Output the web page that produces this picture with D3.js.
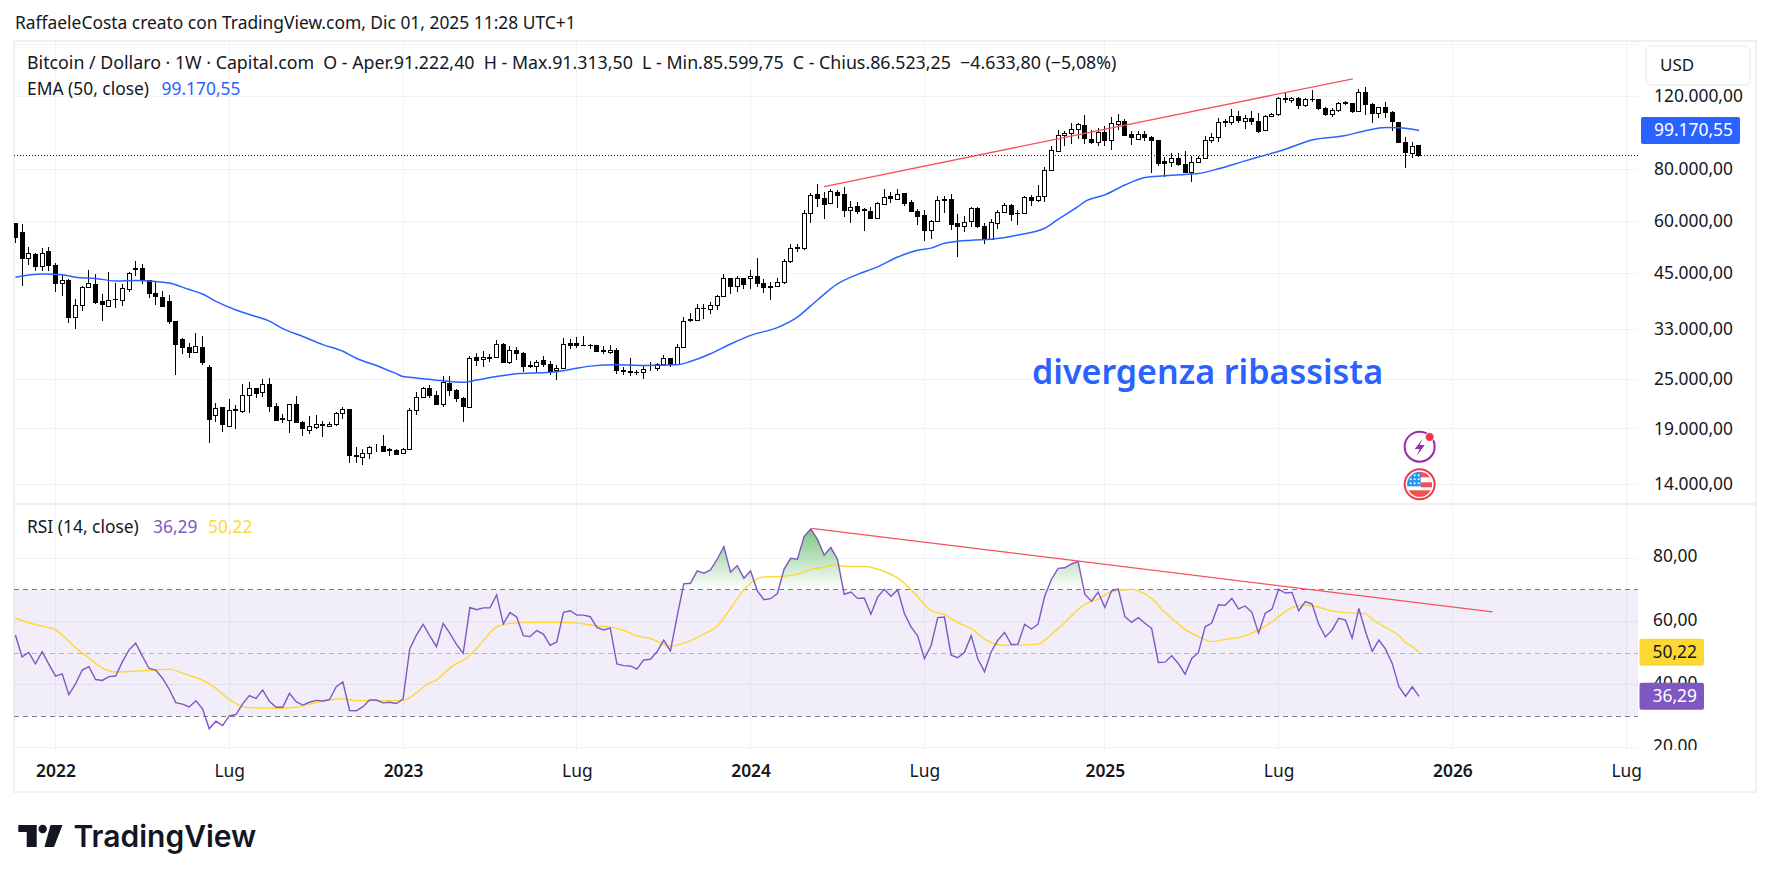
<!DOCTYPE html>
<html lang="it">
<head>
	<meta charset="UTF-8">
	<title>Bitcoin / Dollaro 1W</title>
	<style>
		html, body { margin: 0; padding: 0; background: #fff; }
		svg { display: block; }
		text { font-family: "Noto Sans", sans-serif; fill: #131722; white-space: pre; }
		.axis path, .axis line { display: none; }
		.axis text { font-size: 17.4px; font-family: "Noto Sans", sans-serif; fill: #131722; }
		.grid { stroke: #f1f2f4; stroke-width: 1; shape-rendering: crispEdges; }
	</style>
</head>
<body>
	<script src="https://d3js.org/d3.v7.min.js"></script>
	<script>
		// weekly candles, prices in thousands of USD, first bar is week -6 (week 0 = first bar of 2022)
		var firstWeek = -6;
		var opens = [
			59.4,56.5,48.8,50.0,46.7,50.8,47.0,42.4,43.1,35.3,37.7,41.6,42.2,38.4,37.4,38.8,38.7,41.2,46.2,46.2,
			43.1,40.3,39.4,38.4,34.4,31.1,29.8,29.0,29.8,26.7,20.5,21.4,19.3,21.0,20.9,22.8,23.8,23.3,24.3,21.5,
			20.1,19.9,21.7,19.7,18.8,19.2,19.5,19.3,19.5,20.7,21.2,16.3,16.2,16.6,17.1,17.2,16.9,16.9,16.6,17.0,
			21.0,22.6,23.8,22.9,21.7,24.5,23.5,22.5,21.4,28.2,27.9,28.1,28.2,30.4,27.5,29.3,28.9,27.0,26.9,27.7,
			27.2,26.2,26.5,30.5,30.5,30.2,30.1,30.2,29.2,29.0,29.3,26.2,26.1,26.0,25.9,26.5,26.5,27.1,28.0,27.2,
			29.9,34.7,34.7,37.0,36.8,37.7,39.6,43.8,41.9,43.6,43.6,44.3,42.6,41.9,41.9,42.8,48.0,51.6,51.6,62.7,
			69.4,68.1,66.2,70.4,69.4,63.8,65.0,64.0,63.4,61.0,65.9,68.8,67.8,69.8,66.4,63.4,61.8,57.1,59.9,67.5,
			67.8,59.1,58.4,59.8,64.2,58.4,54.3,59.3,63.0,65.6,62.7,62.7,68.5,67.3,68.9,79.6,88.4,96.4,97.6,99.8,
			102.0,94.5,92.9,98.2,93.9,102.6,104.3,96.9,94.5,96.9,95.6,93.9,83.3,83.0,84.8,82.2,78.6,83.0,84.8,93.9,
			95.3,103.9,103.8,107.1,104.3,106.1,104.3,99.2,107.1,108.5,118.5,117.2,118.5,113.8,118.0,117.4,112.2,108.5,110.9,115.7,
			114.9,110.1,122.4,114.7,108.7,112.8,109.7,103.8,92.9,87.4,91.222
		];
		var highs = [
			59.4,59.1,52.0,50.3,51.7,52.0,47.5,44.6,43.6,38.9,42.0,45.7,44.8,40.1,45.3,42.6,42.4,45.2,48.1,47.4,
			43.2,43.0,40.8,39.9,34.5,31.4,30.5,32.3,31.8,27.0,21.9,21.5,22.4,21.7,24.4,24.6,23.8,25.0,25.2,21.9,
			20.6,21.8,22.8,19.9,20.4,20.5,19.9,19.7,20.9,21.5,21.2,17.2,17.0,17.3,17.5,18.4,17.1,17.0,17.1,21.3,
			23.3,24.0,24.2,23.4,25.4,25.4,23.7,22.7,28.4,28.9,29.2,28.8,31.1,30.5,30.0,29.9,29.1,27.7,27.9,28.5,
			27.6,27.0,31.5,31.2,31.6,31.8,30.4,30.2,30.0,30.2,29.7,26.7,28.2,26.3,26.9,27.5,27.4,28.6,28.0,30.4,
			35.3,36.0,37.9,38.0,38.4,39.9,44.8,43.8,44.4,43.8,45.8,48.9,43.6,42.8,43.9,48.7,52.9,52.9,63.7,70.3,
			73.6,70.5,71.6,71.2,72.5,67.1,66.9,64.5,64.9,66.9,71.6,70.7,71.6,70.3,67.3,64.1,63.7,60.4,68.8,69.0,
			69.8,62.5,61.6,65.0,65.0,59.5,60.7,63.9,66.4,66.1,63.9,68.8,69.3,73.3,80.9,91.0,99.4,98.7,103.6,103.6,
			108.1,99.4,100.4,101.7,106.7,108.7,105.5,99.0,98.7,99.0,95.9,94.1,85.5,87.4,87.4,88.7,86.1,86.1,95.9,98.0,
			106.1,105.5,111.5,110.5,108.1,110.5,109.1,108.1,109.5,119.5,122.4,119.6,119.2,118.9,124.0,117.8,112.6,112.2,116.3,117.0,
			115.7,124.5,125.9,115.3,113.2,115.9,110.5,104.1,95.5,92.9,91.313
		];
		var lows = [
			53.2,42.0,47.0,45.6,45.6,45.6,40.6,39.7,34.1,33.0,36.4,41.6,38.0,34.5,37.4,37.2,37.5,40.6,44.4,42.3,
			39.3,37.8,37.4,33.9,25.6,28.7,28.1,29.0,27.1,17.6,19.7,18.7,19.2,19.0,20.8,20.8,22.5,22.7,20.9,19.9,
			19.6,18.6,19.6,18.3,18.5,19.0,18.2,19.2,19.3,20.1,15.7,15.7,15.6,16.1,16.7,16.7,16.4,16.5,16.5,17.0,
			20.5,22.5,22.6,21.7,21.5,22.8,22.1,19.7,21.4,26.9,26.7,27.5,28.1,27.3,27.2,27.8,26.0,26.6,25.9,26.8,
			25.6,24.9,26.5,29.6,29.8,30.0,29.6,29.1,28.7,28.8,25.7,25.6,25.5,25.6,25.0,26.2,26.2,27.0,26.7,27.2,
			29.9,34.3,34.7,35.0,35.8,36.7,39.6,40.2,40.6,41.2,41.3,41.8,40.4,38.7,41.8,42.3,47.7,50.6,51.2,59.5,
			64.9,60.9,66.2,64.6,61.3,59.5,62.5,56.7,60.6,60.9,65.7,66.5,67.8,65.1,63.1,58.6,53.9,54.5,59.9,62.7,
			57.2,49.3,56.4,58.0,57.9,52.8,54.1,57.4,62.7,60.0,58.9,62.7,65.4,66.8,66.9,79.6,88.2,91.0,92.1,94.5,
			92.1,92.2,91.0,91.0,89.0,99.4,95.9,91.7,94.5,93.4,78.5,81.5,76.8,81.2,81.5,78.3,74.7,83.0,84.8,92.7,
			93.0,101.3,102.0,103.2,100.0,102.1,97.6,99.2,106.7,107.5,115.7,115.3,111.9,112.6,116.3,111.1,107.5,107.1,110.1,114.4,
			109.1,110.1,108.1,103.6,106.1,106.1,99.0,92.7,80.7,85.3,85.6
		];
		var closes = [
			54.7,48.8,50.3,46.7,50.3,47.0,42.4,43.1,35.2,37.6,41.6,42.4,38.2,37.8,38.7,38.9,41.4,44.8,45.9,43.2,
			40.2,39.5,37.5,34.5,30.3,29.8,29.0,30.0,27.4,20.0,21.3,19.5,21.0,21.1,22.8,23.8,23.1,24.3,21.5,19.9,
			20.0,21.7,19.7,19.0,19.3,19.5,19.4,19.5,20.7,21.2,16.4,16.4,16.6,17.1,17.1,16.8,17.0,16.5,17.0,21.0,
			22.6,23.8,22.9,21.8,24.6,23.5,22.5,21.5,28.0,27.8,28.2,28.2,30.4,27.4,29.3,28.9,26.9,26.9,27.5,27.2,
			26.1,26.5,30.4,30.2,30.1,30.1,30.2,29.2,29.3,29.3,26.2,26.1,26.0,25.9,26.4,26.5,27.1,28.0,27.2,29.9,
			34.5,34.8,37.0,37.1,37.7,39.6,43.8,41.9,43.6,42.3,44.3,42.5,41.6,41.6,42.8,48.1,51.7,51.8,62.7,69.3,
			68.0,65.9,70.8,69.3,63.7,64.6,63.3,63.8,60.9,66.1,68.5,68.0,69.7,66.3,63.3,61.7,57.0,60.0,67.4,67.3,
			58.9,58.4,59.5,64.2,58.3,54.3,59.6,63.0,65.6,62.3,62.5,68.5,67.3,68.8,79.6,88.8,96.4,97.6,99.8,102.6,
			94.8,92.7,98.2,93.6,103.2,104.3,96.4,95.2,96.9,95.3,93.9,82.6,82.8,85.0,82.1,78.4,83.0,84.8,93.9,95.5,
			103.8,104.3,107.1,104.7,106.1,104.3,98.5,107.1,108.5,118.5,117.6,118.5,114.0,117.8,117.6,111.9,108.3,110.9,115.3,115.3,
			109.9,122.2,114.7,108.7,112.8,109.7,104.1,92.9,87.9,90.9,86.523
		];

		// EMA 50 at these weeks
		var emaWeeks = [-6,-2,1,3,6,9,12,15,17,20,22,24,27,30,32,34,37,40,43,45,48,51,52,54,58,61,63,66,69,74,77,80,84,88,93,95,98,101,104,108,111,114,117,120,123,126,129,131,133,137,140,144,148,150,153,154,157,160,163,167,171,174,178,181,184,188,193,196,199,201,204];
		var emaValues = [44.0,44.8,44.6,44.0,43.7,43.1,43.2,43.0,42.6,41.1,40.1,38.5,36.7,35.4,34.5,33.1,31.7,30.3,29.2,28.1,27.0,25.8,25.4,25.2,24.8,24.6,24.9,25.4,25.8,26.0,26.4,26.9,27.1,27.0,27.1,27.6,28.8,30.4,31.9,33.3,35.3,38.8,42.4,44.7,46.6,49.2,51.1,51.7,53.1,54.0,54.3,55.6,57.7,60.6,65.1,66.9,69.4,73.3,76.4,77.4,78.1,80.2,83.8,86.5,89.4,94.1,96.4,99.0,100.8,100.6,99.17];

		// RSI 14, one value per candle
		var rsiValues = [
			55.7,48.8,50.2,46.6,50.4,46.5,42.7,43.4,36.8,40.2,44.6,45.7,41.6,41.3,42.5,42.7,47.2,51.0,53.1,49.0,
			45.1,44.6,42.0,38.6,34.3,33.8,32.9,34.9,32.3,26.0,28.4,27.0,30.1,30.5,33.9,36.5,35.6,38.3,34.7,32.8,
			32.8,37.2,34.6,33.5,34.4,35.0,34.8,35.2,39.3,40.8,31.8,31.7,33.0,35.1,35.1,34.2,34.4,34.0,35.4,51.3,
			55.7,59.1,55.4,52.0,59.4,56.2,52.7,49.9,64.4,63.7,64.3,64.3,68.4,59.2,62.8,61.4,55.5,55.2,57.1,56.0,
			52.4,53.5,62.9,63.4,62.0,62.0,61.5,58.1,57.3,57.9,46.5,46.0,45.9,44.9,47.8,48.0,50.4,54.1,50.7,61.5,
			71.9,72.1,76.0,75.3,76.3,79.7,83.7,75.6,77.7,73.7,76.0,69.7,66.9,67.2,68.8,76.5,80.0,79.7,86.9,89.3,
			86.0,81.0,83.4,79.7,68.6,69.3,67.3,67.4,62.3,67.7,70.2,68.0,70.0,62.6,58.3,55.4,48.2,52.3,61.2,61.4,
			49.3,48.5,50.2,55.5,48.1,44.1,50.4,54.1,56.5,52.7,52.8,59.1,57.6,59.1,68.0,73.3,76.8,77.0,78.2,79.0,
			68.6,66.4,69.3,64.4,69.7,70.3,61.5,59.7,61.2,59.4,57.8,47.0,47.1,49.1,46.7,43.3,48.3,50.1,58.3,59.5,
			65.3,65.1,67.3,64.0,64.9,62.9,56.3,62.6,63.9,70.2,69.0,69.2,63.4,66.3,65.5,59.1,55.1,57.3,61.0,60.4,
			54.7,64.1,56.8,50.5,54.1,51.2,46.7,39.3,36.3,39.3,36.29
		];

		// RSI moving average at these weeks
		var rsiMaWeeks = [-6,-3,-1,0,1,3,5,7,9,12,15,17,19,21,22,24,26,27,29,33,36,39,43,45,48,52,54,56,57,58,60,61,63,66,68,72,76,78,81,83,85,87,89,92,94,97,99,101,103,104,106,108,111,113,115,117,118,121,124,126,129,130,131,133,135,137,139,141,143,147,148,150,151,153,154,156,158,161,162,164,166,167,169,171,173,175,178,180,182,184,185,187,189,191,193,196,197,199,201,202,203,204];
		var rsiMaValues = [61.0,59.0,58.1,57.3,55.7,51.7,48.4,45.3,44.0,44.2,44.6,44.9,43.6,42.2,41.4,38.8,35.3,34.0,32.7,32.5,32.8,34.3,35.5,34.9,34.9,35.0,37.4,40.6,41.4,43.3,46.7,47.6,51.4,58.3,59.4,59.7,59.7,59.5,58.6,58.2,57.2,55.4,54.6,52.2,53.1,56.0,58.5,64.1,70.0,72.1,74.1,74.2,75.0,76.5,77.2,77.9,77.4,77.4,75.8,73.8,67.8,65.4,63.4,62.2,59.6,57.8,54.4,52.6,52.4,52.8,54.1,57.8,59.6,63.8,65.4,67.1,69.4,70.2,69.7,67.3,62.8,61.0,57.5,55.2,53.6,54.3,55.4,57.3,59.9,63.1,64.4,65.2,64.5,63.3,62.8,62.4,60.7,58.1,55.5,53.3,52.0,50.22];

		var priceGrid = [160,120,80,60,45,33,25,19,14];
		var priceTicks = [120,80,60,45,33,25,19,14];
		var rsiGrid = [80,60,40,20];
		var rsiBands = [70,50,30];
		var rsiTicks = [80,60,40,20];
		var timeWeeks = [0,26,52,78,104,130,157,183,209,235];
		var timeLabels = ['2022','Lug','2023','Lug','2024','Lug','2025','Lug','2026','Lug'];

		var priceTrendWeeks = [115,194.1];
		var priceTrendValues = [72.7,132.0];
		var rsiTrendWeeks = [113.1,215];
		var rsiTrendValues = [89.5,63.0];

		var lastEma = 99.17055;
		var lastClose = 86.523;
		var lastRsi = 36.29;
		var lastRsiMa = 50.22;

		var width = 1772;
		var height = 882;
		var left = 14;
		var right = 1638;
		var frameRight = 1756;
		var blue = '#2962ff', purple = '#7e57c2', yellow = '#fdd835', red = '#f7525f';

		var loc = d3.formatLocale({decimal: ',', thousands: '.', grouping: [3], currency: ['', '']});
		var fmt = loc.format(',.2f');

		var x = d3.scaleLinear().domain([0,209]).range([55.5,1452.4]);
		var y = d3.scaleLog().domain([120,14]).range([96,484.1]);
		var yr = d3.scaleLinear().domain([80,20]).range([558.3,747.7]);

		var weeks = d3.range(opens.length).map(function(i){ return firstWeek + i; });

		var svg = d3.select('body').append('svg').attr('width',width).attr('height',height);
		var defs = svg.append('defs');
		defs.append('clipPath').attr('id','clipPrice').append('rect')
			.attr('x',left).attr('y',42).attr('width',right-left).attr('height',504-42);
		defs.append('clipPath').attr('id','clipRsi').append('rect')
			.attr('x',left).attr('y',505).attr('width',right-left).attr('height',750-505);
		defs.append('clipPath').attr('id','clipOver').append('rect')
			.attr('x',left).attr('y',505).attr('width',right-left).attr('height',yr(70)-505);
		defs.append('clipPath').attr('id','clipUnder').append('rect')
			.attr('x',left).attr('y',yr(30)).attr('width',right-left).attr('height',750-yr(30));
		defs.append('clipPath').attr('id','clipRsiAxis').append('rect')
			.attr('x',right).attr('y',505).attr('width',frameRight-right).attr('height',750-505);
		defs.append('clipPath').attr('id','clipTime').append('rect')
			.attr('x',left).attr('y',750).attr('width',right-left+6).attr('height',40);
		var over = defs.append('linearGradient').attr('id','gradOver').attr('gradientUnits','userSpaceOnUse')
			.attr('x1',0).attr('x2',0).attr('y1',yr(90)).attr('y2',yr(70));
		over.append('stop').attr('offset',0).attr('stop-color','#4caf50').attr('stop-opacity',0.75);
		over.append('stop').attr('offset',1).attr('stop-color','#4caf50').attr('stop-opacity',0);
		var under = defs.append('linearGradient').attr('id','gradUnder').attr('gradientUnits','userSpaceOnUse')
			.attr('x1',0).attr('x2',0).attr('y1',yr(30)).attr('y2',yr(10));
		under.append('stop').attr('offset',0).attr('stop-color','#ff5252').attr('stop-opacity',0);
		under.append('stop').attr('offset',1).attr('stop-color','#ff5252').attr('stop-opacity',0.75);

		// grid
		var grid = svg.append('g');
		grid.selectAll('.pg').data(priceGrid).enter().append('line').attr('class','grid')
			.attr('x1',left).attr('x2',right).attr('y1',function(d){ return y(d); }).attr('y2',function(d){ return y(d); });
		grid.selectAll('.rg').data(rsiGrid).enter().append('line').attr('class','grid')
			.attr('x1',left).attr('x2',right).attr('y1',function(d){ return yr(d); }).attr('y2',function(d){ return yr(d); });
		grid.selectAll('.vg').data(timeWeeks).enter().append('line').attr('class','grid')
			.attr('x1',function(d){ return x(d); }).attr('x2',function(d){ return x(d); })
			.attr('y1',42).attr('y2',750);

		// frame and pane separator
		svg.append('rect').attr('x',left).attr('y',41).attr('width',frameRight-left).attr('height',751)
			.attr('fill','none').attr('stroke','#f0f0f1').attr('stroke-width',2);
		svg.append('line').attr('x1',left).attr('x2',frameRight).attr('y1',504).attr('y2',504)
			.attr('stroke','#eeeeef').attr('stroke-width',2);

		// price pane
		var price = svg.append('g').attr('clip-path','url(#clipPrice)');
		price.append('line').attr('x1',left).attr('x2',right+2)
			.attr('y1',y(lastClose)).attr('y2',y(lastClose))
			.attr('stroke','#131722').attr('stroke-width',1).attr('stroke-dasharray','1,2').attr('shape-rendering','crispEdges');

		var candle = price.selectAll('.candle').data(weeks).enter().append('g').attr('class','candle');
		candle.append('line')
			.attr('x1',function(d){ return x(d); }).attr('x2',function(d){ return x(d); })
			.attr('y1',function(d,i){ return y(highs[i]); })
			.attr('y2',function(d,i){ return y(lows[i]); })
			.attr('stroke','#000').attr('stroke-width',1).attr('shape-rendering','crispEdges');
		candle.append('rect')
			.attr('x',function(d){ return x(d)-2; })
			.attr('width',4)
			.attr('y',function(d,i){ return y(Math.max(opens[i],closes[i])); })
			.attr('height',function(d,i){ return Math.abs(y(opens[i])-y(closes[i])); })
			.attr('fill',function(d,i){ return closes[i] >= opens[i] ? '#fff' : '#000'; })
			.attr('stroke','#000').attr('stroke-width',1).attr('shape-rendering','crispEdges');

		var emaLine = d3.line().x(function(d){ return x(d); })
			.y(function(d,i){ return y(emaValues[i]); }).curve(d3.curveMonotoneX);
		price.append('path').attr('d',emaLine(emaWeeks)).attr('fill','none').attr('stroke',blue).attr('stroke-width',1.5);

		var trendLine = d3.line().x(function(d){ return x(d); }).y(function(d,i){ return y(priceTrendValues[i]); });
		price.append('path').attr('d',trendLine(priceTrendWeeks)).attr('fill','none').attr('stroke',red).attr('stroke-width',1.3);

		// rsi pane
		var rsi = svg.append('g').attr('clip-path','url(#clipRsi)');
		rsi.append('rect').attr('x',left).attr('width',right-left)
			.attr('y',yr(70)).attr('height',yr(30)-yr(70)).attr('fill',purple).attr('fill-opacity',0.1);
		rsi.selectAll('.band').data(rsiBands).enter().append('line')
			.attr('x1',left).attr('x2',right)
			.attr('y1',function(d){ return yr(d); }).attr('y2',function(d){ return yr(d); })
			.attr('stroke',function(d){ return d == 50 ? '#b4b6be' : '#787b86'; })
			.attr('stroke-width',1).attr('stroke-dasharray','5,4').attr('shape-rendering','crispEdges');

		var overArea = d3.area().x(function(d){ return x(d); }).y0(yr(70))
			.y1(function(d,i){ return yr(rsiValues[i]); });
		rsi.append('path').attr('d',overArea(weeks)).attr('fill','url(#gradOver)').attr('clip-path','url(#clipOver)');
		var underArea = d3.area().x(function(d){ return x(d); }).y0(yr(30))
			.y1(function(d,i){ return yr(rsiValues[i]); });
		rsi.append('path').attr('d',underArea(weeks)).attr('fill','url(#gradUnder)').attr('clip-path','url(#clipUnder)');

		var maLine = d3.line().x(function(d){ return x(d); })
			.y(function(d,i){ return yr(rsiMaValues[i]); }).curve(d3.curveMonotoneX);
		rsi.append('path').attr('d',maLine(rsiMaWeeks)).attr('fill','none').attr('stroke',yellow).attr('stroke-width',1.4);
		var rsiLine = d3.line().x(function(d){ return x(d); }).y(function(d,i){ return yr(rsiValues[i]); });
		rsi.append('path').attr('d',rsiLine(weeks)).attr('fill','none').attr('stroke',purple).attr('stroke-width',1.4);
		var rsiTrend = d3.line().x(function(d){ return x(d); }).y(function(d,i){ return yr(rsiTrendValues[i]); });
		rsi.append('path').attr('d',rsiTrend(rsiTrendWeeks)).attr('fill','none').attr('stroke',red).attr('stroke-width',1.3);

		// axes
		var priceAxis = d3.axisRight(y).tickValues(priceTicks).tickSize(0).tickPadding(16)
			.tickFormat(function(d){ return fmt(d*1000); });
		svg.append('g').attr('class','axis').attr('transform','translate('+right+',0)').call(priceAxis);
		var rsiAxis = d3.axisRight(yr).tickValues(rsiTicks).tickSize(0).tickPadding(15).tickFormat(fmt);
		svg.append('g').attr('clip-path','url(#clipRsiAxis)').append('g').attr('class','axis')
			.attr('transform','translate('+right+',-2)').call(rsiAxis);
		var timeAxis = d3.axisBottom(x).tickValues(timeWeeks).tickSize(0).tickPadding(0)
			.tickFormat(function(d,i){ return timeLabels[i]; });
		var timeG = svg.append('g').attr('clip-path','url(#clipTime)').append('g').attr('class','axis')
			.attr('transform','translate(0,765)').call(timeAxis);
		timeG.selectAll('text')
			.style('font-weight',function(d,i){ return timeLabels[i] == 'Lug' ? 400 : 600; });

		// USD box
		svg.append('rect').attr('x',1646).attr('y',46).attr('width',104).attr('height',39).attr('rx',5)
			.attr('fill','#fff').attr('stroke','#f0f0f1').attr('stroke-width',1.5);
		svg.append('text').attr('x',1660).attr('y',71).attr('font-size',17).text('USD');

		// value tags
		function tag(yPos, x0, w, fill, color, label) {
			svg.append('rect').attr('x',x0).attr('y',yPos-13.5).attr('width',w).attr('height',27).attr('rx',2).attr('fill',fill);
			svg.append('text').attr('x',x0+13).attr('y',yPos+6).attr('font-size',17.4).style('fill',color).text(label);
		}
		tag(y(lastEma),1641,99,blue,'#fff',fmt(lastEma*1000));
		tag(yr(lastRsiMa),1639.5,64.5,yellow,'#131722',fmt(lastRsiMa));
		tag(yr(lastRsi),1639.5,64.5,purple,'#fff',fmt(lastRsi));

		// texts
		svg.append('text').attr('x',15).attr('y',29).attr('font-size',17.4)
			.text('RaffaeleCosta creato con TradingView.com, Dic 01, 2025 11:28 UTC+1');
		svg.append('text').attr('x',27).attr('y',69).attr('font-size',17.8)
			.text('Bitcoin / Dollaro · 1W · Capital.com  O - Aper.91.222,40  H - Max.91.313,50  L - Min.85.599,75  C - Chius.86.523,25  −4.633,80 (−5,08%)');
		svg.append('text').attr('x',27).attr('y',95).attr('font-size',17.4).text('EMA (50, close)');
		svg.append('text').attr('x',161.5).attr('y',95).attr('font-size',17.4).style('fill',blue).text(fmt(lastEma*1000));
		svg.append('text').attr('x',27).attr('y',533).attr('font-size',17.4).text('RSI (14, close)');
		svg.append('text').attr('x',153).attr('y',533).attr('font-size',17.4).style('fill',purple).text(fmt(lastRsi));
		svg.append('text').attr('x',208).attr('y',533).attr('font-size',17.4).style('fill',yellow).text(fmt(lastRsiMa));
		svg.append('text').attr('x',1032).attr('y',384).attr('font-size',34).attr('font-weight',600)
			.style('fill',blue).text('divergenza ribassista');

		// event icons
		var iconX = x(204.1);
		svg.append('circle').attr('cx',iconX).attr('cy',446.7).attr('r',15).attr('fill','#fff').attr('stroke','#9c27b0').attr('stroke-width',2);
		svg.append('circle').attr('cx',iconX+10).attr('cy',437).attr('r',4.5).attr('fill','#f23645').attr('stroke','#fff').attr('stroke-width',1);
		svg.append('path').attr('transform','translate('+iconX+',447)')
			.attr('d','M3,-8 L-5,2 L0,2 L-3,9 L5,-2 L0,-2 Z').attr('fill','#9c27b0');
		var flagY = 484.3;
		defs.append('clipPath').attr('id','clipFlag').append('circle').attr('cx',iconX).attr('cy',flagY).attr('r',12.5);
		svg.append('circle').attr('cx',iconX).attr('cy',flagY).attr('r',15).attr('fill','#fff').attr('stroke','#f23645').attr('stroke-width',2);
		var flag = svg.append('g').attr('clip-path','url(#clipFlag)');
		flag.append('rect').attr('x',iconX).attr('y',flagY-13).attr('width',13).attr('height',6).attr('fill','#ef5350');
		flag.append('rect').attr('x',iconX+1).attr('y',flagY-2).attr('width',12).attr('height',5).attr('fill','#ef5350');
		flag.append('rect').attr('x',iconX-13).attr('y',flagY+6).attr('width',26).attr('height',7).attr('fill','#ef5350');
		flag.append('rect').attr('x',iconX-13).attr('y',flagY-13).attr('width',14).attr('height',15).attr('fill','#2196f3');
		[-9,-5,-1].forEach(function(dx){
			[-9,-5,-1].forEach(function(dy){
				flag.append('circle').attr('cx',iconX+dx).attr('cy',flagY+dy).attr('r',1).attr('fill','#fff');
			});
		});

		// logo
		var logo = svg.append('g').attr('fill','#131722');
		logo.append('path').attr('d','M18.3,825 H36.7 V847 H26.7 V832 H18.3 Z');
		logo.append('circle').attr('cx',42.7).attr('cy',829).attr('r',4.2);
		logo.append('path').attr('d','M50.5,825 H62.5 L54,847 H44.5 Z');
		svg.append('text').attr('x',73.5).attr('y',847).attr('font-size',30).attr('font-weight',600)
			.style('font-family','Inter, sans-serif').text('TradingView');
	</script>
</body>
</html>
